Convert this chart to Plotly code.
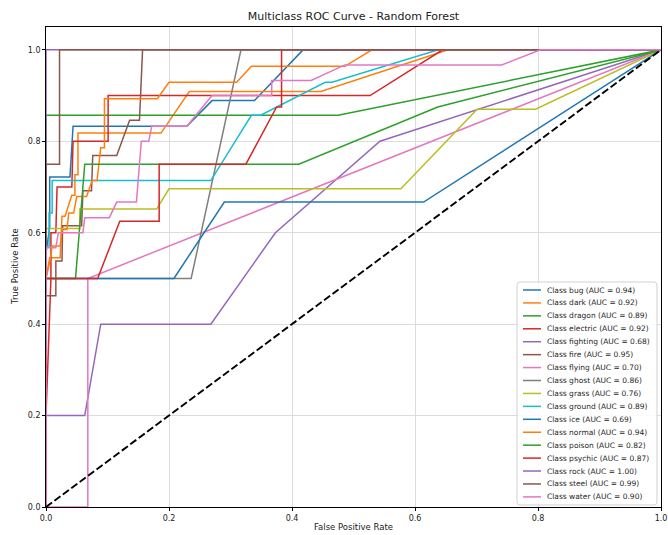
import plotly.graph_objects as go

# ---------------- data ----------------
class_names = ["bug", "dark", "dragon", "electric", "fighting", "fire", "flying", "ghost",
               "grass", "ground", "ice", "normal", "poison", "psychic", "rock", "steel", "water"]
auc_values = [0.94, 0.92, 0.89, 0.92, 0.68, 0.95, 0.70, 0.86,
              0.76, 0.89, 0.69, 0.94, 0.82, 0.87, 1.00, 0.99, 0.90]

bug_fpr = [0, 0, 0.006, 0.006, 0.039, 0.044, 0.229, 0.270, 0.339, 0.418, 1]
bug_tpr = [0, 0.556, 0.611, 0.722, 0.722, 0.833, 0.833, 0.889, 0.889, 1.0, 1]

dark_fpr = [0, 0, 0.006, 0.023, 0.026, 0.031, 0.042, 0.047, 0.047, 0.052, 0.052, 0.187, 0.233, 0.447, 0.654, 1]
dark_tpr = [0, 0.5, 0.545, 0.545, 0.636, 0.636, 0.682, 0.682, 0.727, 0.727, 0.818, 0.818, 0.909, 0.909, 1.0, 1]

dragon_fpr = [0, 0, 0.475, 1]
dragon_tpr = [0, 0.857, 0.857, 1]

electric_fpr = [0, 0, 0.008, 0.008, 0.016, 0.018, 0.042, 0.044, 0.101, 0.101, 0.527, 0.645, 1]
electric_tpr = [0, 0.2, 0.5, 0.6, 0.6, 0.7, 0.7, 0.8, 0.8, 0.9, 0.9, 1.0, 1]

fighting_fpr = [0, 0, 0.063, 0.089, 0.268, 0.373, 0.543, 1]
fighting_tpr = [0, 0.2, 0.2, 0.4, 0.4, 0.6, 0.8, 1]

fire_fpr = [0, 0, 0.016, 0.016, 0.026, 0.027, 0.058, 0.060, 0.074, 0.076, 0.115, 0.136, 0.152, 0.157, 1]
fire_tpr = [0, 0.462, 0.462, 0.538, 0.538, 0.615, 0.615, 0.692, 0.692, 0.769, 0.769, 0.846, 0.846, 1.0, 1]

flying_fpr = [0, 0.068, 0.068, 1]
flying_tpr = [0, 0, 0.5, 1]

ghost_fpr = [0, 0, 0.236, 0.317, 1]
ghost_tpr = [0, 0.5, 0.5, 1.0, 1]

grass_fpr = [0, 0, 0.055, 0.055, 0.180, 0.200, 0.577, 0.701, 0.796, 1]
grass_tpr = [0, 0.609, 0.609, 0.652, 0.652, 0.696, 0.696, 0.870, 0.870, 1]

ground_fpr = [0, 0, 0.005, 0.005, 0.010, 0.010, 0.268, 0.334, 0.349, 0.454, 0.465, 0.638, 1]
ground_tpr = [0, 0.571, 0.571, 0.643, 0.643, 0.714, 0.714, 0.857, 0.857, 0.929, 0.929, 1.0, 1]

ice_fpr = [0, 0, 0.208, 0.290, 0.614, 1]
ice_tpr = [0, 0.5, 0.5, 0.667, 0.667, 1]

normal_fpr = [0, 0, 0.006, 0.010, 0.023, 0.026, 0.034, 0.037, 0.045, 0.050, 0.066, 0.075,
              0.083, 0.086, 0.089, 0.095, 0.095, 0.181, 0.200, 0.310, 0.334, 0.486, 0.530, 1]
normal_tpr = [0, 0.5, 0.536, 0.571, 0.571, 0.607, 0.607, 0.643, 0.643, 0.679, 0.679, 0.714,
              0.714, 0.750, 0.786, 0.786, 0.893, 0.893, 0.929, 0.929, 0.964, 0.964, 1.0, 1]

poison_fpr = [0, 0, 0.048, 0.063, 0.411, 0.637, 1]
poison_tpr = [0, 0.5, 0.5, 0.75, 0.75, 0.875, 1]

psychic_fpr = [0, 0, 0.084, 0.120, 0.184, 0.184, 0.325, 0.375, 0.383, 0.383, 1]
psychic_tpr = [0, 0.5, 0.5, 0.625, 0.625, 0.75, 0.75, 0.875, 0.875, 1.0, 1]

rock_fpr = [0, 0, 1]
rock_tpr = [0, 1, 1]

steel_fpr = [0, 0, 0.022, 0.022, 1]
steel_tpr = [0, 0.75, 0.75, 1.0, 1]

water_fpr = [0, 0, 0.016, 0.020, 0.060, 0.063, 0.103, 0.115, 0.147, 0.152, 0.155, 0.167,
             0.172, 0.229, 0.270, 0.367, 0.367, 0.431, 0.486, 0.741, 0.804, 1]
water_tpr = [0, 0.567, 0.567, 0.600, 0.600, 0.633, 0.633, 0.667, 0.667, 0.750, 0.800, 0.800,
             0.833, 0.833, 0.900, 0.900, 0.933, 0.933, 0.967, 0.967, 1.0, 1]

chance_fpr = [0, 1]
chance_tpr = [0, 1]

axis_ticks = [0.0, 0.2, 0.4, 0.6, 0.8, 1.0]

# ---------------- styling ----------------
tab10 = ["#1f77b4", "#ff7f0e", "#2ca02c", "#d62728", "#9467bd",
         "#8c564b", "#e377c2", "#7f7f7f", "#bcbd22", "#17becf"]

curves = [
    (bug_fpr, bug_tpr), (dark_fpr, dark_tpr), (dragon_fpr, dragon_tpr),
    (electric_fpr, electric_tpr), (fighting_fpr, fighting_tpr), (fire_fpr, fire_tpr),
    (flying_fpr, flying_tpr), (ghost_fpr, ghost_tpr), (grass_fpr, grass_tpr),
    (ground_fpr, ground_tpr), (ice_fpr, ice_tpr), (normal_fpr, normal_tpr),
    (poison_fpr, poison_tpr), (psychic_fpr, psychic_tpr), (rock_fpr, rock_tpr),
    (steel_fpr, steel_tpr), (water_fpr, water_tpr),
]

FONT = "DejaVu Sans"
W, H = 668, 535
ML, MR, MT, MB = 46, 7, 27, 28
PW, PH = W - ML - MR, H - MT - MB

fig = go.Figure()
labels = []
for i, (name, auc, (fx, ty)) in enumerate(zip(class_names, auc_values, curves)):
    label = f"Class {name} (AUC = {auc:.2f})"
    labels.append(label)
    fig.add_trace(go.Scatter(x=fx, y=ty, mode="lines", name=label,
                             line=dict(color=tab10[i % 10], width=1.5),
                             showlegend=False))

fig.add_trace(go.Scatter(x=chance_fpr, y=chance_tpr, mode="lines",
                         line=dict(color="black", width=1.9, dash="7.5px,3px"),
                         showlegend=False, hoverinfo="skip"))

axis_common = dict(
    showgrid=True, gridcolor="#dcdcdc", gridwidth=0.8,
    showline=True, mirror=True, linecolor="black", linewidth=0.8,
    ticks="outside", ticklen=3, tickwidth=0.8, tickcolor="black",
    tickfont=dict(family=FONT, size=8, color="#222"),
    zeroline=False, automargin=False, ticklabeloverflow="allow",
    tickvals=axis_ticks, ticktext=[f"{v:.1f}" for v in axis_ticks],
)

# ---------- custom legend (lower right), matplotlib-like ----------
def px_x(p):
    return (p - ML) / PW

def px_y(p):
    return (H - MB - p) / PH

shapes = []
annotations = []
right_edge = W - MR
lx1 = right_edge - 4
lx0 = lx1 - 140
ly0, ly1 = 282, 505
r = 3
def P(x, y):
    return f"{px_x(x):.5f},{px_y(y):.5f}"
path = (f"M {P(lx0 + r, ly0)} L {P(lx1 - r, ly0)} Q {P(lx1, ly0)} {P(lx1, ly0 + r)} "
        f"L {P(lx1, ly1 - r)} Q {P(lx1, ly1)} {P(lx1 - r, ly1)} "
        f"L {P(lx0 + r, ly1)} Q {P(lx0, ly1)} {P(lx0, ly1 - r)} "
        f"L {P(lx0, ly0 + r)} Q {P(lx0, ly0)} {P(lx0 + r, ly0)} Z")
shapes.append(dict(type="path", xref="paper", yref="paper", path=path,
                   fillcolor="rgba(255,255,255,0.85)", line=dict(color="#cccccc", width=0.9),
                   layer="above"))
step = 12.93
for i, label in enumerate(labels):
    yc = 290 + step * i
    shapes.append(dict(type="line", xref="paper", yref="paper",
                       x0=px_x(lx0 + 6), x1=px_x(lx0 + 24), y0=px_y(yc), y1=px_y(yc),
                       line=dict(color=tab10[i % 10], width=1.5), layer="above"))
    annotations.append(dict(xref="paper", yref="paper", x=px_x(lx0 + 28), y=px_y(yc),
                            text=label, showarrow=False, xanchor="left", yanchor="middle",
                            font=dict(family=FONT, size=7.5, color="#262626")))

annotations.append(dict(xref="paper", yref="paper", x=0.5, y=px_y(526.5),
                        text="False Positive Rate", showarrow=False,
                        xanchor="center", yanchor="middle",
                        font=dict(family=FONT, size=8.5, color="#222")))
annotations.append(dict(xref="paper", yref="paper", x=px_x(15), y=0.5,
                        text="True Positive Rate", showarrow=False, textangle=-90,
                        xanchor="center", yanchor="middle",
                        font=dict(family=FONT, size=8.5, color="#222")))

fig.update_layout(
    width=W, height=H,
    template="none",
    paper_bgcolor="white", plot_bgcolor="white",
    margin=dict(l=ML, r=MR, t=MT, b=MB, autoexpand=False),
    title=dict(text="Multiclass ROC Curve - Random Forest",
               x=(ML + PW / 2) / W, xanchor="center",
               y=1 - 16 / H, yanchor="middle", yref="container",
               font=dict(family=FONT, size=11, color="#222")),
    xaxis=dict(range=[0, 1], **axis_common),
    yaxis=dict(range=[0, 1.05], **axis_common),
    shapes=shapes,
    annotations=annotations,
    showlegend=False,
)

fig.write_html("out.html", config={"displayModeBar": False},
               post_script="document.body.style.margin='0';document.body.style.overflow='hidden';")
